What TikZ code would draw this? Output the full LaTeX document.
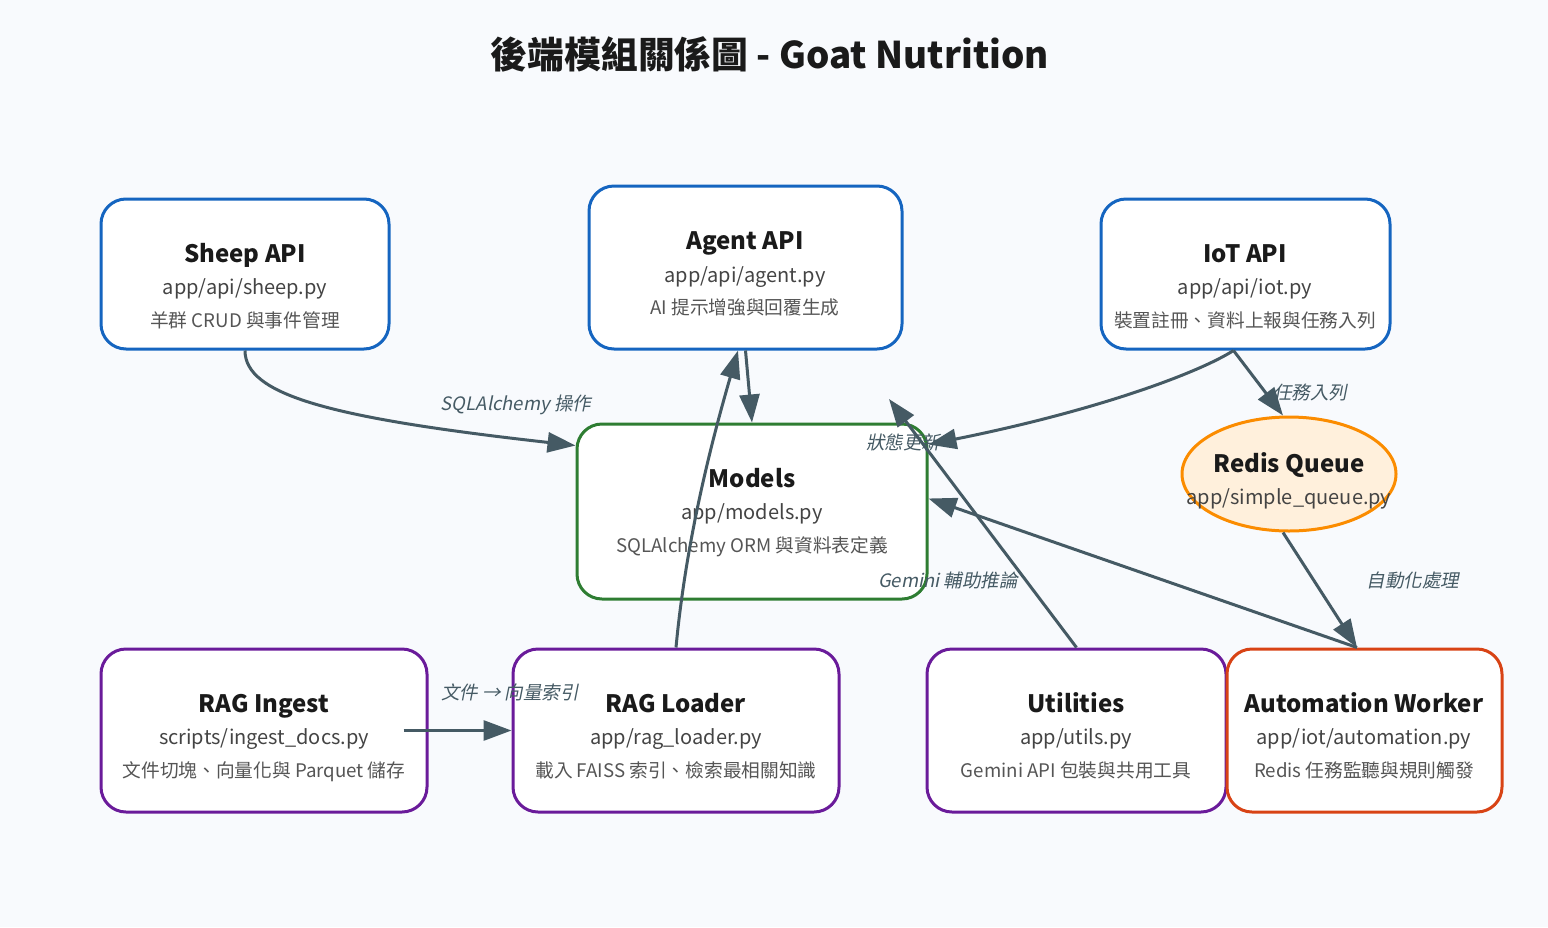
\documentclass[tikz,border=0pt]{standalone}
\usepackage{fontspec}
\setmainfont{Noto Sans CJK TC}
\newfontfamily\labelfont[FakeSlant=0.2]{Noto Sans CJK TC}
\usetikzlibrary{shapes.geometric,arrows.meta}
\definecolor{bgc}{HTML}{F8FAFD}
\definecolor{cblue}{HTML}{1565C0}
\definecolor{cgreen}{HTML}{2E7D32}
\definecolor{cpurple}{HTML}{6A1B9A}
\definecolor{corange}{HTML}{FB8C00}
\definecolor{cred}{HTML}{D84315}
\definecolor{cedge}{HTML}{455A64}
\definecolor{ctitle}{HTML}{1A1A1A}
\definecolor{cpath}{HTML}{444444}
\definecolor{cdesc}{HTML}{555555}
\definecolor{credfill}{HTML}{FFF0DC}
\tikzset{
  modbox/.style={draw=#1, line width=3pt, fill=white, rounded corners=25pt, inner sep=0pt},
  ttl/.style={font=\bfseries\fontsize{24}{28}\selectfont, text=ctitle, anchor=center, text height=18pt, text depth=5pt, inner sep=0pt, yshift=-3pt},
  pth/.style={font=\fontsize{20}{24}\selectfont, text=cpath, anchor=center, text height=15pt, text depth=5pt, inner sep=0pt, yshift=-2pt},
  dsc/.style={font=\fontsize{18.7}{22}\selectfont, text=cdesc, anchor=center, text height=14pt, text depth=4pt, inner sep=0pt, yshift=-2pt},
  lbl/.style={font=\labelfont\fontsize{18.5}{22}\selectfont, text=cedge, anchor=center, inner sep=0pt},
  conn/.style={draw=cedge, line width=3pt, -{Triangle[length=28pt,width=20pt]}},
}
\begin{document}
\begin{tikzpicture}[x=1pt,y=-1pt]
\fill[bgc] (0,0) rectangle (1548,927);
\useasboundingbox (0,0) rectangle (1548,927);

\node[font=\bfseries\fontsize{36.8}{42}\selectfont, text=ctitle] (title) at (770,54) {後端模組關係圖 - Goat Nutrition};

% boxes
\node[modbox=cblue, minimum width=288pt, minimum height=150pt] (sheep) at (245,274) {};
\node[modbox=cblue, minimum width=313pt, minimum height=163pt] (agent) at (745.5,267.5) {};
\node[modbox=cblue, minimum width=289pt, minimum height=150pt] (iot) at (1245.5,274) {};
\node[modbox=cgreen, minimum width=350pt, minimum height=175pt] (models) at (752,511.5) {};
\node[draw=corange, fill=credfill, line width=3pt, ellipse, minimum width=214pt, minimum height=114pt, inner sep=0pt] (redis) at (1289,474) {};
\node[modbox=cpurple, minimum width=326pt, minimum height=163pt] (ingest) at (264,730.5) {};
\node[modbox=cpurple, minimum width=326pt, minimum height=163pt] (loader) at (676,730.5) {};
\node[modbox=cpurple, minimum width=299pt, minimum height=163pt] (utils) at (1076.5,730.5) {};
\node[modbox=cred, minimum width=275pt, minimum height=163pt] (auto) at (1364.5,730.5) {};

% texts
\node[ttl] (sheep-t) at (245,253) {Sheep API};
\node[pth] (sheep-p) at (245,287) {app/api/sheep.py};
\node[dsc] (sheep-d) at (245,320) {羊群 CRUD 與事件管理};

\node[ttl] (agent-t) at (745,240) {Agent API};
\node[pth] (agent-p) at (745,275) {app/api/agent.py};
\node[dsc] (agent-d) at (745,307) {AI 提示增強與回覆生成};

\node[ttl] (iot-t) at (1245,253) {IoT API};
\node[pth] (iot-p) at (1245,287) {app/api/iot.py};
\node[dsc] (iot-d) at (1245,320) {裝置註冊、資料上報與任務入列};

\node[ttl] (models-t) at (752,478) {Models};
\node[pth] (models-p) at (752,512) {app/models.py};
\node[dsc] (models-d) at (752,545) {SQLAlchemy ORM 與資料表定義};

\node[ttl] (redis-t) at (1289,463) {Redis Queue};
\node[pth] (redis-p) at (1289,497) {app/simple\_queue.py};

\node[ttl] (ingest-t) at (264,703) {RAG Ingest};
\node[pth] (ingest-p) at (264,737) {scripts/ingest\_docs.py};
\node[dsc] (ingest-d) at (264,770) {文件切塊、向量化與 Parquet 儲存};

\node[ttl] (loader-t) at (676,703) {RAG Loader};
\node[pth] (loader-p) at (676,737) {app/rag\_loader.py};
\node[dsc] (loader-d) at (676,770) {載入 FAISS 索引、檢索最相關知識};

\node[ttl] (utils-t) at (1076,703) {Utilities};
\node[pth] (utils-p) at (1076,737) {app/utils.py};
\node[dsc] (utils-d) at (1076,770) {Gemini API 包裝與共用工具};

\node[ttl] (auto-t) at (1364,703) {Automation Worker};
\node[pth] (auto-p) at (1364,737) {app/iot/automation.py};
\node[dsc] (auto-d) at (1364,770) {Redis 任務監聽與規則觸發};

% connectors
\coordinate (gemtip) at (889,399);
\draw[conn] (sheep.south) .. controls (245,395) and (330,418) .. ([yshift=-23pt]models.north west);
\draw[conn] (agent.south) -- (models.north);
\draw[conn] (loader.north) .. controls (686,540) and (712,440) .. ([xshift=-7.5pt]agent.south);
\draw[conn] ([xshift=-12pt]iot.south) .. controls (1200,372) and (1100,410) .. ([yshift=-22pt]models.north east);
\draw[conn] ([xshift=-12pt]iot.south) -- ([xshift=-6pt]redis.north);
\draw[conn] ([xshift=-6pt]redis.south) -- ([xshift=-7.5pt]auto.north);
\draw[conn] ([xshift=-7.5pt]auto.north) -- ([yshift=-76pt]models.north east);
\draw[conn] (utils.north) -- (gemtip);
\draw[conn] ([xshift=-25pt]ingest.east) -- (loader.west);

% labels
\node[lbl] (l1) at (516,405) {SQLAlchemy 操作};
\node[lbl] (l2) at (903,442) {狀態更新};
\node[lbl] (l3) at (1310,392) {任務入列};
\node[lbl] (l4) at (1413,580) {自動化處理};
\node[lbl] (l5) at (948,580) {Gemini 輔助推論};
\node[lbl] (l6) at (510,692) {文件 → 向量索引};
\end{tikzpicture}
\end{document}
